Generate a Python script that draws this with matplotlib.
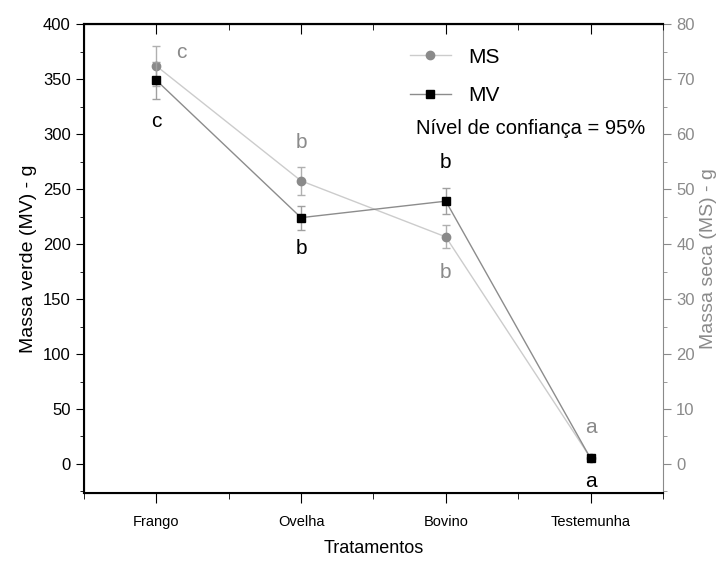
import numpy as np
import matplotlib.pyplot as plt
from matplotlib.ticker import MultipleLocator

plt.rcParams['font.family'] = ['Liberation Sans', 'DejaVu Sans']

tratamentos = ["Frango", "Ovelha", "Bovino", "Testemunha"]
mv = [349, 224, 239, 5]
mv_err = [17, 11, 12, 0]
ms = [72.4, 51.5, 41.3, 1.1]
ms_err = [3.6, 2.6, 2.1, 0]
letras_mv = ["c", "b", "b", "a"]
letras_ms = ["c", "b", "b", "a"]

x = np.arange(1, len(tratamentos) + 1)
cinza = "#8a8a8a"

fig = plt.figure(figsize=(7.23, 5.61), dpi=100)
ax = fig.add_axes([0.116, 0.121, 0.801, 0.836])
ax2 = ax.twinx()

ax2.errorbar(x, ms, yerr=ms_err, color="#cccccc", lw=1, marker="o", ms=6,
             mfc=cinza, mec=cinza, ecolor="#b0b0b0", capsize=3, elinewidth=1,
             zorder=2)
ax.errorbar(x, mv, yerr=mv_err, color="#8c8c8c", lw=1, marker="s", ms=6,
            mfc="black", mec="black", ecolor="#a0a0a0", capsize=3, elinewidth=1,
            zorder=3)
ax.set_zorder(ax2.get_zorder() + 1)
ax.patch.set_visible(False)

ax.set_xlim(0.5, 4.5)
ax.set_ylim(-26.5, 400)
ax2.set_ylim(-5.3, 80)

# letras de significancia
off_mv = [-38, -28, 35, -21]
off_ms = [2.5, 7, -6.5, 5.5]
for i in range(len(x)):
    ax.text(x[i], mv[i] + off_mv[i], letras_mv[i], ha="center", va="center",
            fontsize=15, color="black")
dx_ms = [0.17, 0, 0, 0]
for i in range(len(x)):
    ax2.text(x[i] + dx_ms[i], ms[i] + off_ms[i], letras_ms[i], ha="center",
             va="center", fontsize=15, color=cinza)

ax.set_xticks(x)
ax.set_xticklabels(tratamentos, fontsize=10.5)
ax.xaxis.set_minor_locator(MultipleLocator(0.5))
ax.yaxis.set_major_locator(MultipleLocator(50))
ax.yaxis.set_minor_locator(MultipleLocator(25))
ax.tick_params(axis="y", which="both", direction="out", labelsize=12)
ax.tick_params(axis="y", which="major", length=6)
ax.tick_params(axis="y", which="minor", length=3)
ax.tick_params(axis="x", which="both", direction="out", pad=9)
ax.tick_params(axis="x", which="major", length=7)
ax.tick_params(axis="x", which="minor", length=4)

topo = ax.secondary_xaxis("top")
topo.set_xticks(x)
topo.xaxis.set_minor_locator(MultipleLocator(0.5))
topo.tick_params(axis="x", which="both", direction="in", labeltop=False)
topo.tick_params(axis="x", which="major", length=7)
topo.tick_params(axis="x", which="minor", length=4)
topo.spines["top"].set_linewidth(1.5)

ax2.yaxis.set_major_locator(MultipleLocator(10))
ax2.yaxis.set_minor_locator(MultipleLocator(5))
ax2.tick_params(axis="y", which="both", colors=cinza, labelsize=12)
ax2.tick_params(axis="y", which="major", length=6)
ax2.tick_params(axis="y", which="minor", length=3)
ax2.spines["right"].set_color(cinza)
for s in ["left", "top", "bottom"]:
    ax.spines[s].set_linewidth(1.5)
ax.spines["right"].set_visible(False)

ax.set_ylabel("Massa verde (MV) - g", fontsize=14)
ax2.set_ylabel("Massa seca (MS) - g", fontsize=14, color=cinza)
ax.set_xlabel("Tratamentos", fontsize=13, labelpad=8)

h_ms, = ax.plot([], [], color="#cccccc", lw=1, marker="o", ms=6, mfc=cinza,
                mec=cinza)
h_mv, = ax.plot([], [], color="#8c8c8c", lw=1, marker="s", ms=6, mfc="black",
                mec="black")
ax.legend([h_ms, h_mv], ["MS", "MV"], loc="upper left",
          bbox_to_anchor=(0.53, 0.99), frameon=False, fontsize=15,
          handlelength=2.0, labelspacing=0.95)
ax.text(0.573, 0.778, "Nível de confiança = 95%", transform=ax.transAxes,
        fontsize=14.5, va="center")

plt.savefig("out.png", dpi=100)
